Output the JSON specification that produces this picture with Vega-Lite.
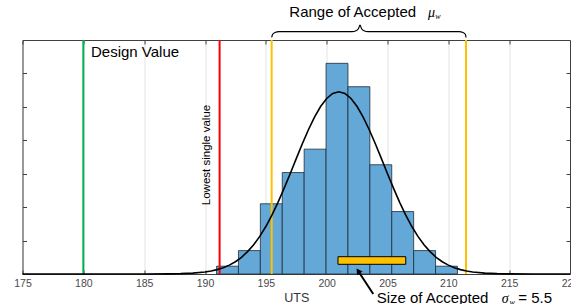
{
  "$schema": "https://vega.github.io/schema/vega-lite/v6.json",
  "width": 547.5,
  "height": 234,
  "autosize": {"type": "none"},
  "padding": {"left": 22.5, "top": 40, "right": 1, "bottom": 30},
  "background": "white",
  "config": {
    "font": "Liberation Sans",
    "view": {"stroke": null},
    "axis": {"labelFont": "Liberation Sans", "titleFont": "Liberation Sans"}
  },
  "datasets": {
    "hist": [
      {"bin_start": 190.95, "bin_end": 192.75, "density": 0.00467},
      {"bin_start": 192.75, "bin_end": 194.55, "density": 0.01401},
      {"bin_start": 194.55, "bin_end": 196.35, "density": 0.04202},
      {"bin_start": 196.35, "bin_end": 198.15, "density": 0.06069},
      {"bin_start": 198.15, "bin_end": 199.95, "density": 0.0747},
      {"bin_start": 199.95, "bin_end": 201.75, "density": 0.12605},
      {"bin_start": 201.75, "bin_end": 203.55, "density": 0.11204},
      {"bin_start": 203.55, "bin_end": 205.35, "density": 0.06536},
      {"bin_start": 205.35, "bin_end": 207.15, "density": 0.03735},
      {"bin_start": 207.15, "bin_end": 208.95, "density": 0.01401},
      {"bin_start": 208.95, "bin_end": 210.75, "density": 0.00467}
    ],
    "curve": [
      {"uts": 175, "pdf": 0}, {"uts": 180, "pdf": 0}, {"uts": 185, "pdf": 0.0000077},
      {"uts": 187, "pdf": 0.0000725}, {"uts": 188, "pdf": 0.000199}, {"uts": 189, "pdf": 0.000505},
      {"uts": 190, "pdf": 0.00119}, {"uts": 190.5, "pdf": 0.00178}, {"uts": 191, "pdf": 0.00261},
      {"uts": 191.5, "pdf": 0.00375}, {"uts": 192, "pdf": 0.0053}, {"uts": 192.5, "pdf": 0.00735},
      {"uts": 193, "pdf": 0.01}, {"uts": 193.5, "pdf": 0.0134}, {"uts": 194, "pdf": 0.0175},
      {"uts": 194.5, "pdf": 0.0225}, {"uts": 195, "pdf": 0.0284}, {"uts": 195.5, "pdf": 0.0352},
      {"uts": 196, "pdf": 0.0429}, {"uts": 196.5, "pdf": 0.0512}, {"uts": 197, "pdf": 0.06},
      {"uts": 197.5, "pdf": 0.069}, {"uts": 198, "pdf": 0.0779}, {"uts": 198.5, "pdf": 0.0863},
      {"uts": 199, "pdf": 0.0939}, {"uts": 199.5, "pdf": 0.1002}, {"uts": 200, "pdf": 0.105},
      {"uts": 200.5, "pdf": 0.108}, {"uts": 201, "pdf": 0.109}, {"uts": 201.5, "pdf": 0.108},
      {"uts": 202, "pdf": 0.105}, {"uts": 202.5, "pdf": 0.1002}, {"uts": 203, "pdf": 0.0939},
      {"uts": 203.5, "pdf": 0.0863}, {"uts": 204, "pdf": 0.0779}, {"uts": 204.5, "pdf": 0.069},
      {"uts": 205, "pdf": 0.06}, {"uts": 205.5, "pdf": 0.0512}, {"uts": 206, "pdf": 0.0429},
      {"uts": 206.5, "pdf": 0.0352}, {"uts": 207, "pdf": 0.0284}, {"uts": 207.5, "pdf": 0.0225},
      {"uts": 208, "pdf": 0.0175}, {"uts": 208.5, "pdf": 0.0134}, {"uts": 209, "pdf": 0.01},
      {"uts": 209.5, "pdf": 0.00735}, {"uts": 210, "pdf": 0.0053}, {"uts": 210.5, "pdf": 0.00375},
      {"uts": 211, "pdf": 0.00261}, {"uts": 211.5, "pdf": 0.00178}, {"uts": 212, "pdf": 0.00119},
      {"uts": 213, "pdf": 0.000505}, {"uts": 214, "pdf": 0.000199}, {"uts": 215, "pdf": 0.0000725},
      {"uts": 217, "pdf": 0.0000077}, {"uts": 220, "pdf": 0}
    ],
    "vlines": [
      {"name": "Design Value", "uts": 180},
      {"name": "Lowest single value", "uts": 191.2},
      {"name": "Accepted mu low", "uts": 195.48},
      {"name": "Accepted mu high", "uts": 211.45}
    ],
    "brace": [
      {"i": 0, "uts": 195.48, "y": 0.1415},
      {"i": 1, "uts": 195.55, "y": 0.14329},
      {"i": 2, "uts": 195.75, "y": 0.1445},
      {"i": 3, "uts": 196.08, "y": 0.14497},
      {"i": 4, "uts": 202.08, "y": 0.14497},
      {"i": 5, "uts": 202.41, "y": 0.14551},
      {"i": 6, "uts": 202.62, "y": 0.14688},
      {"i": 7, "uts": 202.74, "y": 0.14898},
      {"i": 8, "uts": 202.86, "y": 0.14688},
      {"i": 9, "uts": 203.07, "y": 0.14551},
      {"i": 10, "uts": 203.4, "y": 0.14497},
      {"i": 11, "uts": 210.88, "y": 0.14497},
      {"i": 12, "uts": 211.21, "y": 0.1445},
      {"i": 13, "uts": 211.41, "y": 0.14329},
      {"i": 14, "uts": 211.45, "y": 0.1415}
    ],
    "sigmabar": [
      {"x0": 200.93, "x1": 206.5, "y0": 0.0058, "y1": 0.01035}
    ],
    "arrow": [
      {"i": 0, "uts": 203.83, "y": -0.01197},
      {"i": 1, "uts": 202.59, "y": 0.00179}
    ],
    "arrowhead": [
      {"uts": 202.59, "y": 0.00179}
    ],
    "labels": [
      {"role": "plain", "text": "Design Value", "uts": 180.63, "y": 0.13001},
      {"role": "plain", "text": "Range of Accepted", "uts": 196.93, "y": 0.15394},
      {"role": "plain", "text": "Size of Accepted", "uts": 204.11, "y": -0.01753},
      {"role": "plain", "text": "= 5.5", "uts": 215.75, "y": -0.01753},
      {"role": "greek", "text": "μ", "uts": 208.33, "y": 0.15394},
      {"role": "greek", "text": "σ", "uts": 214.4, "y": -0.01753},
      {"role": "sub", "text": "w", "uts": 208.93, "y": 0.15245},
      {"role": "sub", "text": "w", "uts": 215.03, "y": -0.0188},
      {"role": "vertical", "text": "Lowest single value", "uts": 190.14, "y": 0.0712}
    ]
  },
  "resolve": {"axis": {"x": "independent", "y": "independent"}},
  "layer": [
    {
      "data": {"name": "hist"},
      "mark": {"type": "rect", "fill": "#63A8D7", "stroke": "#1f2b38", "strokeWidth": 0.8},
      "encoding": {
        "x": {
          "field": "bin_start", "type": "quantitative",
          "scale": {"domain": [175, 220], "nice": false, "zero": false},
          "axis": {
            "orient": "bottom", "values": [175, 180, 185, 190, 195, 200, 205, 210, 215, 220],
            "grid": true, "gridColor": "#e3e3e3", "gridWidth": 1,
            "tickSize": -4, "tickColor": "#404040", "domainColor": "#404040", "domainWidth": 1,
            "labelFontSize": 10.5, "labelColor": "#4a4a4a", "labelPadding": 8, "labelFlush": false, "labelOverlap": false, "labelBound": false,
            "title": "UTS", "titleFontSize": 12.5, "titleFontWeight": "normal", "titleColor": "#333333", "titlePadding": 3
          }
        },
        "x2": {"field": "bin_end"},
        "y": {
          "field": "density", "type": "quantitative",
          "scale": {"domain": [0, 0.14], "nice": false, "zero": true},
          "axis": {
            "orient": "left", "values": [0.02, 0.04, 0.06, 0.08, 0.1, 0.12],
            "labels": false, "grid": false, "tickSize": -4, "tickColor": "#404040",
            "domainColor": "#404040", "domainWidth": 1, "title": null
          }
        },
        "y2": {"datum": 0}
      }
    },
    {
      "data": {"name": "vlines"},
      "mark": {"type": "rule", "strokeWidth": 2},
      "encoding": {
        "x": {"field": "uts", "type": "quantitative", "axis": {
          "orient": "top", "values": [175, 180, 185, 190, 195, 200, 205, 210, 215, 220],
          "labels": false, "grid": false, "tickSize": -4, "tickColor": "#404040",
          "domainColor": "#404040", "domainWidth": 1, "title": null
        }},
        "y": {"datum": 0, "type": "quantitative", "axis": {
          "orient": "right", "values": [0.02, 0.04, 0.06, 0.08, 0.1, 0.12],
          "labels": false, "grid": false, "tickSize": -4, "tickColor": "#404040",
          "domainColor": "#404040", "domainWidth": 1, "title": null
        }},
        "y2": {"datum": 0.14},
        "color": {
          "field": "name", "type": "nominal", "legend": null,
          "scale": {
            "domain": ["Design Value", "Lowest single value", "Accepted mu low", "Accepted mu high"],
            "range": ["#00B050", "#FF0000", "#FFC000", "#FFC000"]
          }
        }
      }
    },
    {
      "data": {"name": "curve"},
      "mark": {"type": "line", "color": "#000000", "strokeWidth": 1.6},
      "encoding": {
        "x": {"field": "uts", "type": "quantitative", "axis": null},
        "y": {"field": "pdf", "type": "quantitative", "axis": null}
      }
    },
    {
      "data": {"name": "sigmabar"},
      "mark": {"type": "rect", "fill": "#FFC000", "stroke": "#000000", "strokeWidth": 1},
      "encoding": {
        "x": {"field": "x0", "type": "quantitative", "axis": null},
        "x2": {"field": "x1"},
        "y": {"field": "y0", "type": "quantitative", "axis": null},
        "y2": {"field": "y1"}
      }
    },
    {
      "data": {"name": "brace"},
      "mark": {"type": "line", "color": "#000000", "strokeWidth": 1.2, "interpolate": "monotone", "clip": false},
      "encoding": {
        "x": {"field": "uts", "type": "quantitative", "axis": null},
        "y": {"field": "y", "type": "quantitative", "axis": null},
        "order": {"field": "i"}
      }
    },
    {
      "data": {"name": "arrow"},
      "mark": {"type": "line", "color": "#000000", "strokeWidth": 2, "clip": false},
      "encoding": {
        "x": {"field": "uts", "type": "quantitative", "axis": null},
        "y": {"field": "y", "type": "quantitative", "axis": null},
        "order": {"field": "i"}
      }
    },
    {
      "data": {"name": "arrowhead"},
      "mark": {"type": "point", "shape": "triangle-up", "filled": true, "color": "#000000", "size": 45, "angle": 326, "opacity": 1},
      "encoding": {
        "x": {"field": "uts", "type": "quantitative", "axis": null},
        "y": {"field": "y", "type": "quantitative", "axis": null}
      }
    },
    {
      "data": {"name": "labels"},
      "transform": [{"filter": "datum.role == 'plain'"}],
      "mark": {"type": "text", "align": "left", "baseline": "alphabetic", "fontSize": 15, "font": "Liberation Sans", "color": "#000000"},
      "encoding": {
        "x": {"field": "uts", "type": "quantitative", "axis": null},
        "y": {"field": "y", "type": "quantitative", "axis": null},
        "text": {"field": "text"}
      }
    },
    {
      "data": {"name": "labels"},
      "transform": [{"filter": "datum.role == 'greek'"}],
      "mark": {"type": "text", "align": "left", "baseline": "alphabetic", "fontSize": 14, "fontStyle": "italic", "font": "Liberation Serif", "color": "#000000"},
      "encoding": {
        "x": {"field": "uts", "type": "quantitative", "axis": null},
        "y": {"field": "y", "type": "quantitative", "axis": null},
        "text": {"field": "text"}
      }
    },
    {
      "data": {"name": "labels"},
      "transform": [{"filter": "datum.role == 'sub'"}],
      "mark": {"type": "text", "align": "left", "baseline": "alphabetic", "fontSize": 8, "fontStyle": "italic", "font": "Liberation Serif", "color": "#000000"},
      "encoding": {
        "x": {"field": "uts", "type": "quantitative", "axis": null},
        "y": {"field": "y", "type": "quantitative", "axis": null},
        "text": {"field": "text"}
      }
    },
    {
      "data": {"name": "labels"},
      "transform": [{"filter": "datum.role == 'vertical'"}],
      "mark": {"type": "text", "align": "center", "baseline": "middle", "angle": 270, "fontSize": 11.5, "font": "Liberation Sans", "color": "#000000"},
      "encoding": {
        "x": {"field": "uts", "type": "quantitative", "axis": null},
        "y": {"field": "y", "type": "quantitative", "axis": null},
        "text": {"field": "text"}
      }
    }
  ]
}
